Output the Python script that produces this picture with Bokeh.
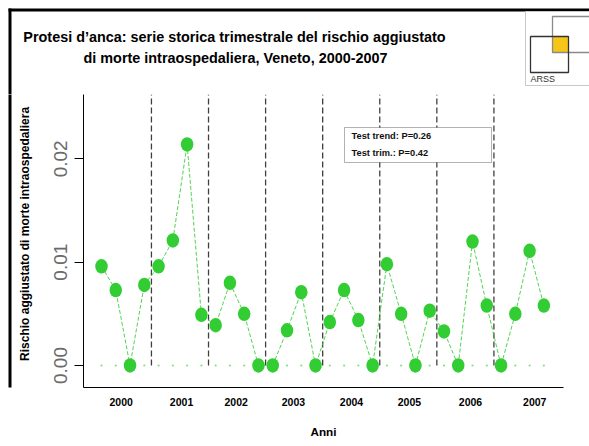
import math
from bokeh.plotting import figure
from bokeh.models import Range1d, FixedTicker, Label, BoxAnnotation
from bokeh.layouts import column, row
from bokeh.embed import file_html
from bokeh.resources import INLINE
from bokeh.core.properties import value

# ---------------- data ----------------
years = ["2000", "2001", "2002", "2003", "2004", "2005", "2006", "2007"]
quarters = list(range(1, 33))
risk = [0.0096, 0.0073, 0.0000, 0.0078,
        0.0096, 0.0121, 0.0214, 0.0049,
        0.0039, 0.0080, 0.0050, 0.0000,
        0.0000, 0.0034, 0.0071, 0.0000,
        0.0042, 0.0073, 0.0044, 0.0000,
        0.0098, 0.0050, 0.0000, 0.0053,
        0.0033, 0.0000, 0.0120, 0.0058,
        0.0000, 0.0050, 0.0111, 0.0058]
y_ticks = [0.0, 0.01, 0.02]
y_tick_labels = ["0.00", "0.01", "0.02"]
test_lines = ["Test trend: P=0.26", "Test trim.: P=0.42"]
title_lines = ["Protesi d\u2019anca: serie storica trimestrale del rischio aggiustato",
               "di morte intraospedaliera, Veneto, 2000-2007"]
y_title = "Rischio aggiustato di morte intraospedaliera"
x_title = "Anni"
logo_text = "ARSS"

# label positions of the years on the quarter axis (as in the original)
year_tick_pos = [2.38, 6.61, 10.44, 14.45, 18.52, 22.58, 26.86, 31.36]
year_bounds = [4 * k + 0.5 for k in range(1, 8)]

FONT = "Liberation Sans"
GREEN = "#32CD32"


def blank(width, height, x0, x1, y0, y1):
    f = figure(width=width, height=height, output_backend="svg", toolbar_location=None,
               x_range=Range1d(x0, x1), y_range=Range1d(y0, y1),
               x_axis_location=None, y_axis_location=None,
               min_border_left=0, min_border_right=0, min_border_top=0, min_border_bottom=0)
    f.outline_line_color = None
    f.xgrid.visible = False
    f.ygrid.visible = False
    f.background_fill_color = "white"
    f.border_fill_color = "white"
    return f


# ---------------- header: frame border, title, logo (page pixel space) ----------------
head = blank(589, 94, 0, 589, 94, 0)
head.quad(left=[8, 8], right=[600, 11], top=[8, 8], bottom=[11, 100],
          fill_color="black", line_color=None)
head.text(x=[234, 235], y=[36, 57], text=title_lines, text_font=value(FONT),
          text_font_style="bold", text_font_size="14.4px", text_align="center",
          text_baseline="middle", text_color="black")
# logo
head.quad(left=[525], right=[620], top=[11], bottom=[85], fill_color=None,
          line_color="#c8c8c8", line_width=1)
head.quad(left=[552.5], right=[567.5], top=[36.5], bottom=[51.5], fill_color="#F5C518",
          line_color=None)
head.quad(left=[552], right=[620], top=[16], bottom=[52], fill_color=None,
          line_color="#8a8a8a", line_width=1.3)
head.quad(left=[530], right=[568], top=[36], bottom=[72], fill_color=None,
          line_color="#333333", line_width=1.3)
head.text(x=[530], y=[78.5], text=[logo_text], text_font=value(FONT), text_font_size="9px",
          text_align="left", text_baseline="middle", text_color="#333333")

# ---------------- left strip: frame border + y title ----------------
strip = blank(40, 352, 0, 40, 446, 94)
strip.quad(left=[8], right=[11], top=[80], bottom=[460], fill_color="black", line_color=None)
strip.text(x=[24], y=[261.5], text=[y_title], angle=math.pi / 2, text_font=value(FONT),
           text_font_style="bold", text_font_size="12px", text_align="center",
           text_baseline="middle", text_color="black")

# ---------------- main plot ----------------
p = figure(width=549, height=352, output_backend="svg", toolbar_location=None,
           x_range=Range1d(-0.261, 33.376), y_range=Range1d(-0.00213, 0.02623),
           min_border_left=43, min_border_right=26, min_border_top=0, min_border_bottom=59)
p.outline_line_color = None
p.background_fill_color = "white"
p.border_fill_color = "white"
p.xgrid.visible = False
p.ygrid.visible = False

xa = p.xaxis[0]
xa.ticker = FixedTicker(ticks=year_tick_pos)
xa.major_label_overrides = {t: y for t, y in zip(year_tick_pos, years)}
xa.major_tick_out = 0
xa.major_tick_in = 0
xa.minor_tick_out = 0
xa.minor_tick_in = 0
xa.major_label_standoff = 10
xa.major_label_text_font = FONT
xa.major_label_text_font_style = "bold"
xa.major_label_text_font_size = "10.5px"
xa.major_label_text_color = "black"
xa.axis_line_color = "black"
xa.axis_label = x_title
xa.axis_label_text_font = FONT
xa.axis_label_text_font_style = "bold"
xa.axis_label_text_font_size = "11.7px"
xa.axis_label_text_color = "black"
xa.axis_label_standoff = 16

ya = p.yaxis[0]
ya.ticker = FixedTicker(ticks=y_ticks)
ya.major_label_overrides = {t: s for t, s in zip(y_ticks, y_tick_labels)}
ya.major_tick_out = 9
ya.major_tick_in = 0
ya.minor_tick_out = 0
ya.minor_tick_in = 0
ya.major_label_orientation = "vertical"
ya.major_label_standoff = 7
ya.major_label_text_font = FONT
ya.major_label_text_font_size = "19px"
ya.major_label_text_color = "#6a6a6a"
ya.axis_line_color = "black"
ya.major_tick_line_color = "black"

# year boundaries (dashed)
p.segment(x0=year_bounds, y0=[0.0] * len(year_bounds), x1=year_bounds,
          y1=[p.y_range.end] * len(year_bounds),
          line_color="#404040", line_width=1.3, line_dash="6 3")

# zero reference dots
p.scatter(x=quarters, y=[0.0] * len(quarters), size=2.2, color="#7fe07f", line_color=None)

# series
p.line(x=quarters, y=risk, line_color=GREEN, line_width=1, line_dash="4 2", line_alpha=0.85)
p.ellipse(x=quarters, y=risk, width=12.5, height=14.5, width_units="screen",
          height_units="screen", fill_color=GREEN, line_color=None)

# test box (screen units from the frame's bottom-left)
p.add_layout(BoxAnnotation(left=261, right=408, bottom=225, top=260,
                           left_units="screen", right_units="screen",
                           bottom_units="screen", top_units="screen",
                           fill_color="white", fill_alpha=1, line_color="black", line_width=1))
for i, t in enumerate(test_lines):
    p.add_layout(Label(x=268, y=252 - 17.7 * i, x_units="screen", y_units="screen", text=t,
                       text_font=FONT, text_font_style="bold", text_font_size="9.3px",
                       text_baseline="middle", text_align="left", text_color="#111"))

layout = column(head, row(strip, p))
open("out.html", "w").write(file_html(layout, INLINE))
